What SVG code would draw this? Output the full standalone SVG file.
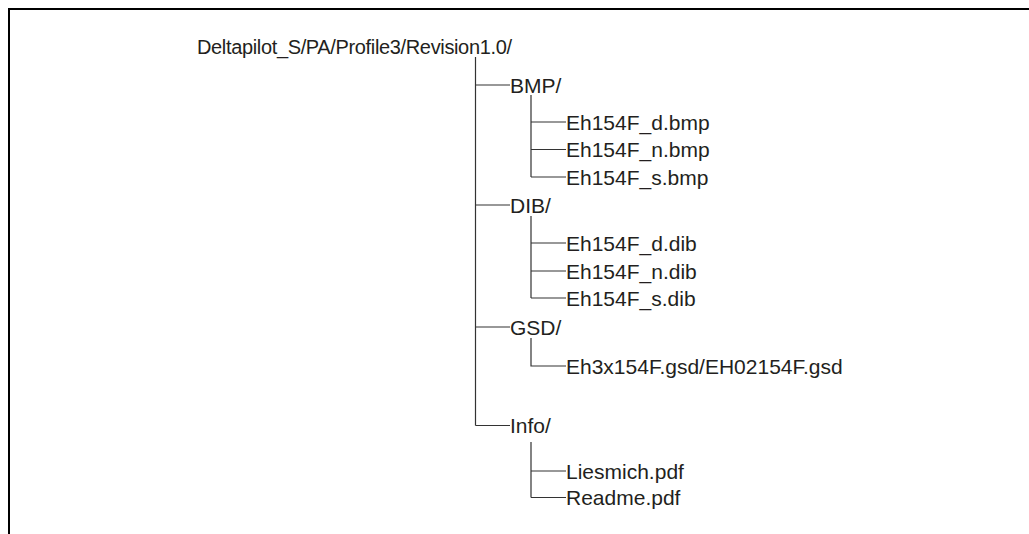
<svg xmlns="http://www.w3.org/2000/svg" width="1029" height="534" viewBox="0 0 1029 534">
<style>
text{font-family:"Liberation Sans",Arial,sans-serif;font-size:21px;fill:#231f20}
.title{font-size:20px;letter-spacing:-0.35px}
.frame{stroke:#000;stroke-width:2;fill:none}
.c{stroke:#333;stroke-width:1.2;fill:none}
</style>
<rect width="1029" height="534" fill="#fff"/>
<path class="frame" d="M9,534 V9 H1029"/>
<g id="connectors">
<path class="c" d="M475.5,57 V425.5 M475.5,85 H510 M475.5,205 H510 M475.5,327 H510 M475.5,425.5 H510"/>
<path class="c" d="M531,95 V177 M531,122 H566 M531,149.5 H566 M531,177 H566"/>
<path class="c" d="M531,216 V298 M531,243 H566 M531,271 H566 M531,298 H566"/>
<path class="c" d="M531,338 V366 H566"/>
<path class="c" d="M531,442 V497.5 M531,471 H566 M531,497.5 H566"/>
</g>
<g id="root"><text class="title" x="197" y="53.5">Deltapilot_S/PA/Profile3/Revision1.0/</text></g>
<g id="bmp"><text x="510" y="92.5">BMP/</text></g>
<g id="bmp_d"><text x="566" y="129.5">Eh154F_d.bmp</text></g>
<g id="bmp_n"><text x="566" y="157">Eh154F_n.bmp</text></g>
<g id="bmp_s"><text x="566" y="184.5">Eh154F_s.bmp</text></g>
<g id="dib"><text x="510" y="212.5">DIB/</text></g>
<g id="dib_d"><text x="566" y="250.5">Eh154F_d.dib</text></g>
<g id="dib_n"><text x="566" y="278.5">Eh154F_n.dib</text></g>
<g id="dib_s"><text x="566" y="305.5">Eh154F_s.dib</text></g>
<g id="gsd"><text x="510" y="334.5">GSD/</text></g>
<g id="gsd_file"><text x="566" y="373.5">Eh3x154F.gsd/EH02154F.gsd</text></g>
<g id="info"><text x="510" y="433">Info/</text></g>
<g id="info_l"><text x="566" y="478.5">Liesmich.pdf</text></g>
<g id="info_r"><text x="566" y="505">Readme.pdf</text></g>
</svg>
